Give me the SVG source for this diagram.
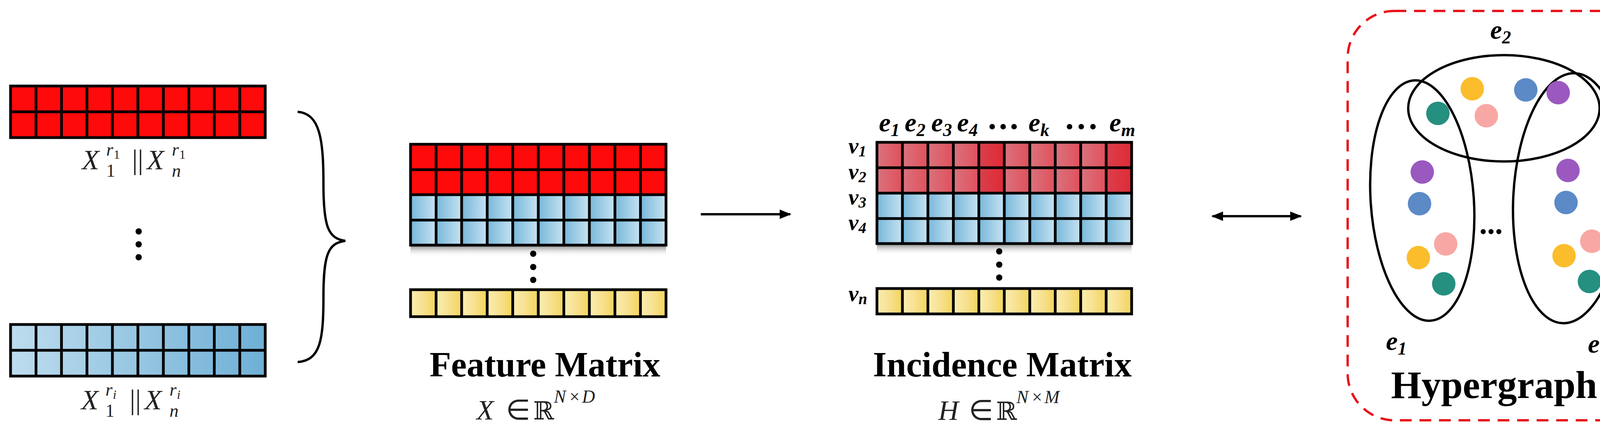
<svg xmlns="http://www.w3.org/2000/svg" width="4276" height="1105" viewBox="0 0 4276 1105">
<style>
.grid{fill:none;stroke:#000;stroke-width:7}
.m{font-family:"Liberation Serif",serif;font-style:italic;font-size:72px;fill:#222}
.mr{font-family:"Liberation Serif",serif;font-size:72px;fill:#222}
.bb{font-family:"DejaVu Serif",serif;font-size:64px;fill:#222}
.ss{font-size:32px}
.lb{font-family:"Liberation Serif",serif;font-style:italic;font-weight:bold;font-size:68px;fill:#000}
.vl{font-size:58px}
.vs{font-size:40px}
.title{font-family:"Liberation Serif",serif;font-weight:bold;font-size:90px;fill:#000;text-anchor:middle}
.big{font-size:100px}
.ell{font-size:80px}
.sub{font-size:46px}
.conn{stroke:#000;stroke-width:6;fill:none}
</style>
<defs>
<linearGradient id="gBlueBar" x1="0" x2="1" y1="0" y2="0"><stop offset="0" stop-color="#bddcee"/><stop offset="1" stop-color="#6fb0d6"/></linearGradient>
<linearGradient id="gBlueCell" x1="0" x2="1"><stop offset="0" stop-color="#78b8da"/><stop offset="1" stop-color="#c6e2f1"/></linearGradient>
<linearGradient id="gYel" x1="0" x2="1"><stop offset="0" stop-color="#fbeeb0"/><stop offset="0.5" stop-color="#f7e090"/><stop offset="1" stop-color="#f3d55a"/></linearGradient>
<linearGradient id="gPink" x1="0" x2="1"><stop offset="0" stop-color="#d9737d"/><stop offset="1" stop-color="#e0505c"/></linearGradient>
<linearGradient id="gDeepRed" x1="0" x2="1"><stop offset="0" stop-color="#d8404c"/><stop offset="1" stop-color="#e02a36"/></linearGradient>
<linearGradient id="gShadow" x1="0" x2="0" y1="0" y2="1"><stop offset="0" stop-color="#999"/><stop offset="1" stop-color="#fff" stop-opacity="0"/></linearGradient>
<pattern id="pBlueF" patternUnits="userSpaceOnUse" x="1051" y="0" width="65.4" height="1105"><rect width="65.4" height="1105" fill="url(#gBlueCell)"/></pattern>
<pattern id="pBlueI" patternUnits="userSpaceOnUse" x="2245" y="0" width="65.2" height="1105"><rect width="65.2" height="1105" fill="url(#gBlueCell)"/></pattern>
<pattern id="pYelF" patternUnits="userSpaceOnUse" x="1051" y="0" width="65.4" height="1105"><rect width="65.4" height="1105" fill="url(#gYel)"/></pattern>
<pattern id="pYelI" patternUnits="userSpaceOnUse" x="2245" y="0" width="65.2" height="1105"><rect width="65.2" height="1105" fill="url(#gYel)"/></pattern>
<pattern id="pPink" patternUnits="userSpaceOnUse" x="2245" y="0" width="65.2" height="1105"><rect width="65.2" height="1105" fill="url(#gPink)"/></pattern>
<marker id="ah" viewBox="0 0 10 10" refX="9" refY="5" markerWidth="5" markerHeight="5" orient="auto-start-reverse" markerUnits="strokeWidth"><path d="M0,1 L10,5 L0,9 z" fill="#000"/></marker>
</defs>

<g id="input-red">
<rect x="27" y="220" width="652" height="132" fill="#fe0a0a"/>
<rect class="grid" x="27" y="220" width="652" height="132"/>
<path class="grid" d="M27,286H679M92.2,220V352M157.4,220V352M222.6,220V352M287.8,220V352M353,220V352M418.2,220V352M483.4,220V352M548.6,220V352M613.8,220V352"/>
<text class="m" x="210" y="433">X</text>
<text class="mr sub" x="272" y="452">1</text>
<text class="m sub" x="272" y="398">r</text><text class="mr ss" x="291" y="406">1</text>
<text class="mr" x="338" y="433">||</text>
<text class="m" x="376" y="433">X</text>
<text class="m sub" x="440" y="452">n</text>
<text class="m sub" x="440" y="398">r</text><text class="mr ss" x="459" y="406">1</text>
</g>

<g id="input-dots"><circle cx="355" cy="592" r="8"/><circle cx="355" cy="625" r="8"/><circle cx="355" cy="658" r="8"/></g>

<g id="input-blue">
<rect x="27" y="830" width="652" height="132" fill="url(#gBlueBar)"/>
<rect class="grid" x="27" y="830" width="652" height="132"/>
<path class="grid" d="M27,896H679M92.2,830V962M157.4,830V962M222.6,830V962M287.8,830V962M353,830V962M418.2,830V962M483.4,830V962M548.6,830V962M613.8,830V962"/>
<text class="m" x="208" y="1047">X</text>
<text class="mr sub" x="270" y="1066">1</text>
<text class="m sub" x="270" y="1012">r</text><text class="m ss" x="289" y="1020">i</text>
<text class="mr" x="332" y="1047">||</text>
<text class="m" x="370" y="1047">X</text>
<text class="m sub" x="434" y="1066">n</text>
<text class="m sub" x="434" y="1012">r</text><text class="m ss" x="453" y="1020">i</text>
</g>

<g id="brace">
<path class="conn" d="M762,286 C820,290 828,360 828,470 C828,580 840,610 884,616 C840,622 828,650 828,760 C828,870 820,922 762,926"/>
</g>

<g id="feature-matrix">
<rect x="1051" y="369" width="654" height="129" fill="#fe0a0a"/>
<rect x="1051" y="498" width="654" height="129" fill="url(#pBlueF)"/>
<rect x="1051" y="630" width="654" height="26" fill="url(#gShadow)"/>
<rect class="grid" x="1051" y="369" width="654" height="258"/>
<path class="grid" d="M1051,434H1705M1051,498H1705M1051,563H1705M1116.4,369V627M1181.8,369V627M1247.2,369V627M1312.6,369V627M1378,369V627M1443.4,369V627M1508.8,369V627M1574.2,369V627M1639.6,369V627"/>
<circle cx="1365" cy="649" r="8"/><circle cx="1365" cy="683" r="8"/><circle cx="1365" cy="716" r="8"/>
<rect x="1051" y="741" width="654" height="69" fill="url(#pYelF)"/>
<rect class="grid" x="1051" y="741" width="654" height="69"/>
<path class="grid" d="M1116.4,741V810M1181.8,741V810M1247.2,741V810M1312.6,741V810M1378,741V810M1443.4,741V810M1508.8,741V810M1574.2,741V810M1639.6,741V810"/>
<text class="title" x="1395" y="963">Feature Matrix</text>
<text class="m" x="1220" y="1073">X</text><text class="mr" x="1295" y="1073">∈</text><text class="bb" x="1365" y="1073">ℝ</text>
<text class="m sub" x="1418" y="1030">N</text><text class="mr sub" x="1458" y="1030">×</text><text class="m sub" x="1490" y="1030">D</text>
</g>

<g id="incidence-matrix">
<rect x="2245" y="364" width="652" height="130" fill="url(#pPink)"/>
<rect x="2505.8" y="364" width="65.2" height="130" fill="url(#gDeepRed)"/>
<rect x="2831.8" y="364" width="65.2" height="130" fill="url(#gDeepRed)"/>
<rect x="2245" y="494" width="652" height="129" fill="url(#pBlueI)"/>
<rect x="2245" y="626" width="652" height="26" fill="url(#gShadow)"/>
<rect class="grid" x="2245" y="364" width="652" height="259"/>
<path class="grid" d="M2245,429H2897M2245,494H2897M2245,559H2897M2310.2,364V623M2375.4,364V623M2440.6,364V623M2505.8,364V623M2571,364V623M2636.2,364V623M2701.4,364V623M2766.6,364V623M2831.8,364V623"/>
<circle cx="2558" cy="643" r="8"/><circle cx="2558" cy="677" r="8"/><circle cx="2558" cy="710" r="8"/>
<rect x="2245" y="738" width="652" height="65" fill="url(#pYelI)"/>
<rect class="grid" x="2245" y="738" width="652" height="65"/>
<path class="grid" d="M2310.2,738V803M2375.4,738V803M2440.6,738V803M2505.8,738V803M2571,738V803M2636.2,738V803M2701.4,738V803M2766.6,738V803M2831.8,738V803"/>
<text class="lb" x="2250" y="336">e<tspan class="sub" dy="12">1</tspan></text>
<text class="lb" x="2316" y="336">e<tspan class="sub" dy="12">2</tspan></text>
<text class="lb" x="2384" y="336">e<tspan class="sub" dy="12">3</tspan></text>
<text class="lb" x="2450" y="336">e<tspan class="sub" dy="12">4</tspan></text>
<circle cx="2540" cy="324" r="7"/><circle cx="2568" cy="324" r="7"/><circle cx="2596" cy="324" r="7"/>
<text class="lb" x="2633" y="336">e<tspan class="sub" dy="12">k</tspan></text>
<circle cx="2738" cy="324" r="7"/><circle cx="2768" cy="324" r="7"/><circle cx="2798" cy="324" r="7"/>
<text class="lb" x="2840" y="336">e<tspan class="sub" dy="12">m</tspan></text>
<text class="lb vl" x="2172" y="392">v<tspan class="vs" dy="8">1</tspan></text>
<text class="lb vl" x="2172" y="458">v<tspan class="vs" dy="8">2</tspan></text>
<text class="lb vl" x="2172" y="523">v<tspan class="vs" dy="8">3</tspan></text>
<text class="lb vl" x="2172" y="588">v<tspan class="vs" dy="8">4</tspan></text>
<text class="lb vl" x="2172" y="770">v<tspan class="vs" dy="8">n</tspan></text>
<text class="title" x="2566" y="963">Incidence Matrix</text>
<text class="m" x="2402" y="1074">H</text><text class="mr" x="2480" y="1074">∈</text><text class="bb" x="2550" y="1074">ℝ</text>
<text class="m sub" x="2602" y="1031">N</text><text class="mr sub" x="2642" y="1031">×</text><text class="m sub" x="2674" y="1031">M</text>
</g>

<g id="hypergraph">
<rect x="3450" y="28" width="795" height="1047" rx="120" fill="none" stroke="#e8141c" stroke-width="6" stroke-dasharray="30,20"/>
<text class="lb" x="3815" y="99">e<tspan class="sub" dy="12">2</tspan></text>
<g fill="none" stroke="#000" stroke-width="6">
<ellipse cx="3850" cy="277" rx="245" ry="136"/>
<ellipse cx="3641" cy="513" rx="132" ry="308" transform="rotate(-4 3641 513)"/>
<ellipse cx="4016" cy="507" rx="142" ry="320" transform="rotate(3 4016 507)"/>
</g>
<circle cx="3769" cy="227" r="30" fill="#fbbd2c"/>
<circle cx="3906" cy="230" r="30" fill="#5b8ac6"/>
<circle cx="3989" cy="237" r="30" fill="#9b59c0"/>
<circle cx="3681" cy="290" r="30" fill="#258f80"/>
<circle cx="3805" cy="296" r="30" fill="#f8a8a4"/>
<circle cx="3641" cy="440" r="30" fill="#9b59c0"/>
<circle cx="3634" cy="521" r="30" fill="#5b8ac6"/>
<circle cx="3701" cy="624" r="30" fill="#f8a8a4"/>
<circle cx="3631" cy="659" r="30" fill="#fbbd2c"/>
<circle cx="3696" cy="726" r="30" fill="#258f80"/>
<circle cx="4014" cy="436" r="30" fill="#9b59c0"/>
<circle cx="4009" cy="518" r="30" fill="#5b8ac6"/>
<circle cx="4075" cy="617" r="30" fill="#f8a8a4"/>
<circle cx="4004" cy="654" r="30" fill="#fbbd2c"/>
<circle cx="4069" cy="720" r="30" fill="#258f80"/>
<text class="title ell" x="3817" y="598">...</text>
<text class="lb" x="3548" y="895">e<tspan class="sub" dy="12">1</tspan></text>
<text class="lb" x="4065" y="902">e<tspan class="sub" dy="12">m</tspan></text>
<text class="title big" x="3825" y="1018">Hypergraph</text>
</g>

<g id="connectors">
<line class="conn" x1="1794" y1="548" x2="2023" y2="548" marker-end="url(#ah)"/>
<line class="conn" x1="3104" y1="553" x2="3330" y2="553" marker-start="url(#ah)" marker-end="url(#ah)"/>
</g>
</svg>
